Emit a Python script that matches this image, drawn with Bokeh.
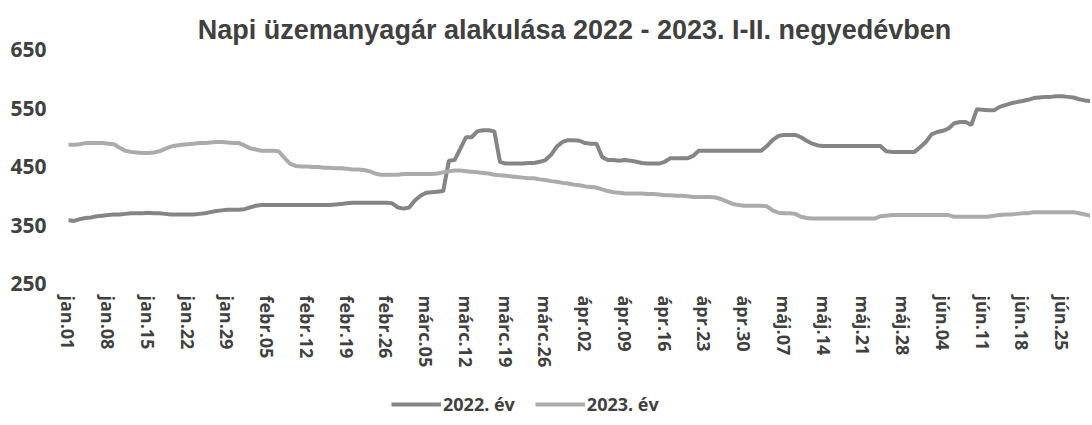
from bokeh.plotting import figure
from bokeh.layouts import column
from bokeh.models import (ColumnDataSource, FixedTicker, Legend, LegendItem,
                          Title, Range1d)
from bokeh.embed import file_html
from bokeh.resources import INLINE

# ---- data -------------------------------------------------------------
week_labels = ["jan.01", "jan.08", "jan.15", "jan.22", "jan.29",
               "febr.05", "febr.12", "febr.19", "febr.26",
               "márc.05", "márc.12", "márc.19", "márc.26",
               "ápr.02", "ápr.09", "ápr.16", "ápr.23", "ápr.30",
               "máj.07", "máj.14", "máj.21", "máj.28",
               "jún.04", "jún.11", "jún.18", "jún.25"]

y_ticks = [250, 350, 450, 550, 650]

price_2022 = [
    358, 357, 360, 362, 363, 365, 366,
    367, 368, 368, 369, 370, 370, 370,
    371, 370, 370, 369, 368, 368, 368,
    368, 368, 369, 370, 372, 374, 375,
    376, 376, 376, 377, 380, 383, 384,
    384, 384, 384, 384, 384, 384, 384,
    384, 384, 384, 384, 384, 385, 386,
    387, 388, 388, 388, 388, 388, 388,
    388, 387, 380, 378, 380, 392, 400,
    405, 406, 407, 408, 460, 461, 480,
    500, 500, 510, 512, 512, 510, 458,
    455, 455, 455, 455, 456, 456, 458,
    461, 470, 484, 492, 495, 495, 494,
    490, 489, 489, 466, 461, 461, 460,
    461, 460, 458, 456, 455, 455, 455,
    458, 464, 464, 464, 464, 468, 477,
    477, 477, 477, 477, 477, 477, 477,
    477, 477, 477, 477, 485, 495, 502,
    504, 504, 504, 500, 494, 489, 486,
    485, 485, 485, 485, 485, 485, 485,
    485, 485, 485, 485, 476, 475, 475,
    475, 475, 475, 483, 492, 505, 509,
    511, 515, 524, 526, 526, 521, 548,
    547, 546, 546, 552, 555, 558, 560,
    562, 564, 567, 568, 569, 569, 570,
    570, 569, 568, 565, 563, 562,
]

price_2023 = [
    487, 487, 488, 490, 490, 490, 490,
    489, 488, 482, 477, 475, 474, 473,
    473, 474, 476, 480, 484, 486, 487,
    488, 489, 490, 490, 491, 492, 492,
    491, 490, 490, 486, 481, 479, 477,
    477, 477, 476, 465, 455, 451, 450,
    450, 449, 449, 448, 448, 447, 447,
    446, 445, 445, 444, 442, 438, 436,
    436, 436, 436, 437, 437, 437, 437,
    437, 437, 438, 440, 442, 443, 443,
    442, 441, 440, 439, 438, 436, 435,
    434, 433, 432, 431, 430, 430, 428,
    427, 425, 424, 422, 421, 419, 418,
    416, 415, 414, 411, 408, 406, 405,
    404, 404, 404, 404, 403, 403, 402,
    401, 401, 400, 400, 399, 398, 398,
    398, 398, 397, 394, 390, 386, 384,
    383, 383, 383, 383, 382, 375, 371,
    370, 370, 369, 364, 362, 361, 361,
    361, 361, 361, 361, 361, 361, 361,
    361, 361, 361, 365, 366, 367, 367,
    367, 367, 367, 367, 367, 367, 367,
    367, 367, 364, 364, 364, 364, 364,
    364, 364, 366, 367, 368, 368, 369,
    370, 370, 372, 372, 372, 372, 372,
    372, 372, 372, 370, 368, 366,
]

series_names = ["2022. év", "2023. év"]
series_colors = ["#858585", "#ababab"]

days = list(range(len(price_2022)))
src = ColumnDataSource(dict(day=days, y2022=price_2022, y2023=price_2023))

# ---- main figure ------------------------------------------------------
TEXT = "#404040"
p = figure(width=1090, height=381, output_backend="svg", toolbar_location=None,
           x_range=Range1d(-1.76, 180.0), y_range=Range1d(250, 650),
           min_border_left=58, min_border_right=0,
           min_border_top=49, min_border_bottom=98,
           background_fill_color="white", border_fill_color="white")
p.outline_line_color = None
p.grid.visible = False

p.title = Title(text="Napi üzemanyagár alakulása 2022 - 2023. I-II. negyedévben",
                align="center", text_font="Liberation Sans",
                text_font_size="27px", text_font_style="bold",
                text_color=TEXT, standoff=9, offset=-10)

r1 = p.line("day", "y2022", source=src, line_color=series_colors[0],
            line_width=4)
r2 = p.line("day", "y2023", source=src, line_color=series_colors[1],
            line_width=4)

tick_pos = [7 * i for i in range(len(week_labels))]
p.xaxis.ticker = FixedTicker(ticks=tick_pos)
p.xaxis.major_label_overrides = {t: lab for t, lab in zip(tick_pos, week_labels)}
p.xaxis.major_label_orientation = "vertical"
p.yaxis.ticker = FixedTicker(ticks=y_ticks)
for ax in (p.xaxis, p.yaxis):
    ax.axis_line_color = None
    ax.major_tick_line_color = None
    ax.minor_tick_line_color = None
    ax.major_tick_out = 0
    ax.major_tick_in = 0
    ax.minor_tick_out = 0
    ax.major_label_text_color = TEXT
    ax.major_label_text_font = "Open Sans"
    ax.major_label_text_font_style = "bold"
p.xaxis.major_label_text_font_size = "18px"
p.xaxis.major_label_standoff = 12
p.yaxis.major_label_text_font_size = "21px"
p.yaxis.major_label_standoff = 12

# ---- legend strip -----------------------------------------------------
q = figure(width=1090, height=40, output_backend="svg", toolbar_location=None,
           x_range=Range1d(0, 1), y_range=Range1d(0, 1),
           min_border=0, background_fill_color="white",
           border_fill_color="white")
q.outline_line_color = None
q.grid.visible = False
q.axis.visible = False
k1 = q.line(x=[-2, -1], y=[-2, -1], line_color=series_colors[0], line_width=4)
k2 = q.line(x=[-2, -1], y=[-2, -1], line_color=series_colors[1], line_width=4)

legend = Legend(items=[LegendItem(label=series_names[0], renderers=[k1]),
                       LegendItem(label=series_names[1], renderers=[k2])],
                orientation="horizontal", location=(333, 5),
                glyph_width=50, glyph_height=20, label_standoff=2,
                spacing=20, padding=0, margin=0,
                label_text_font="Open Sans", label_text_font_style="bold",
                label_text_font_size="18px", label_text_color=TEXT,
                border_line_color=None, background_fill_alpha=0)
q.add_layout(legend, "center")

layout = column(p, q, spacing=0)
open("out.html", "w").write(file_html(layout, INLINE))
